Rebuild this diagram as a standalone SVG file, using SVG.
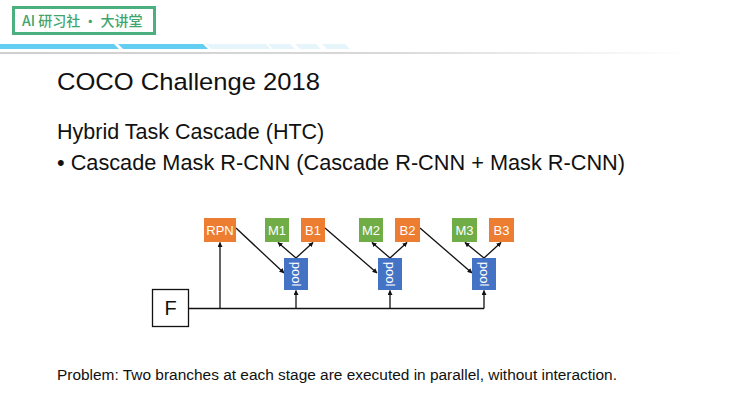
<svg xmlns="http://www.w3.org/2000/svg" width="732" height="400" viewBox="0 0 732 400">
<defs>
<linearGradient id="gl" x1="0" y1="0" x2="1" y2="0">
<stop offset="0" stop-color="#cfcfcf"/><stop offset="0.55" stop-color="#d8d8d8"/><stop offset="1" stop-color="#ffffff"/>
</linearGradient>
<marker id="ah" viewBox="0 0 10 10" refX="9" refY="5" markerWidth="5" markerHeight="5" orient="auto-start-reverse" markerUnits="userSpaceOnUse">
<path d="M0,0 L10,5 L0,10 z" fill="#111"/>
</marker>
<style>
.box{stroke:none}
.or{fill:#ed7d31}
.gr{fill:#70ad47}
.bl{fill:#4472c4}
.lbl{font-family:"Liberation Sans",Arial,sans-serif;font-size:13px;fill:#fff;text-anchor:middle}
.ln{stroke:#111;stroke-width:1.3;fill:none}
.ar{marker-end:url(#ah)}
.txt{font-family:"Liberation Sans",Arial,sans-serif;fill:#111}
</style>
</defs>
<rect width="732" height="400" fill="#fff"/>
<!-- header -->
<rect x="13.5" y="7.5" width="141" height="26" fill="#fff" stroke="#4caf7f" stroke-width="3"/>
<text x="22" y="26" font-family="'Noto Sans CJK SC',sans-serif" font-size="14" font-weight="500" fill="#3ea56e">AI 研习社 · 大讲堂</text>
<polygon points="0,44 114,44 119,49 0,49" fill="#64cdf2"/>
<polygon points="118,44 203,44 208,49 123,49" fill="#64cdf2"/>
<polygon points="206,44 266,44 271,49 211,49" fill="#e6f5fb"/>
<polygon points="268,44 290,44 295,49 273,49" fill="#e6f5fb"/>
<polygon points="295,44 316,44 321,49 300,49" fill="#e6f5fb"/>
<polygon points="322,44 345,44 350,49 327,49" fill="#e6f5fb"/>
<rect x="0" y="52" width="690" height="2" fill="url(#gl)"/>
<!-- texts -->
<text class="txt" x="57" y="90" font-size="24.5" textLength="263" lengthAdjust="spacingAndGlyphs">COCO Challenge 2018</text>
<text class="txt" x="57" y="139" font-size="21.5">Hybrid Task Cascade (HTC)</text>
<text class="txt" x="57" y="170" font-size="21.5" textLength="568" lengthAdjust="spacingAndGlyphs">• Cascade Mask R-CNN (Cascade R-CNN + Mask R-CNN)</text>
<text class="txt" x="57" y="380" font-size="15.2" textLength="560" lengthAdjust="spacingAndGlyphs">Problem: Two branches at each stage are executed in parallel, without interaction.</text>
<!-- connectors -->
<g id="connectors">
<line class="ln" x1="189" y1="308.5" x2="484" y2="308.5"/>
<line class="ln ar" x1="220" y1="308.5" x2="220" y2="242.5"/>
<line class="ln ar" x1="296" y1="308.5" x2="296" y2="290.5"/>
<line class="ln ar" x1="390" y1="308.5" x2="390" y2="290.5"/>
<line class="ln ar" x1="484" y1="308.5" x2="484" y2="290.5"/>
<line class="ln ar" x1="236" y1="228" x2="284" y2="273"/>
<line class="ln ar" x1="325" y1="228" x2="377" y2="273"/>
<line class="ln ar" x1="420" y1="228" x2="472" y2="273"/>
<line class="ln ar" x1="296" y1="258" x2="278" y2="242.5"/>
<line class="ln ar" x1="296" y1="258" x2="313" y2="242.5"/>
<line class="ln ar" x1="390" y1="258" x2="372" y2="242.5"/>
<line class="ln ar" x1="390" y1="258" x2="407" y2="242.5"/>
<line class="ln ar" x1="484" y1="258" x2="465" y2="242.5"/>
<line class="ln ar" x1="484" y1="258" x2="501" y2="242.5"/>
</g>
<!-- nodes -->
<g id="F"><rect x="152.5" y="289.5" width="36" height="37" fill="#fff" stroke="#111" stroke-width="1.3"/><text class="txt" x="170.5" y="315" font-size="20" text-anchor="middle">F</text></g>
<g id="RPN"><rect class="box or" x="204" y="218" width="32" height="24"/><text class="lbl" x="220" y="234.5">RPN</text></g>
<g id="M1"><rect class="box gr" x="265" y="218" width="24" height="24"/><text class="lbl" x="277" y="234.5">M1</text></g>
<g id="B1"><rect class="box or" x="301" y="218" width="24" height="24"/><text class="lbl" x="313" y="234.5">B1</text></g>
<g id="M2"><rect class="box gr" x="359" y="218" width="24" height="24"/><text class="lbl" x="371" y="234.5">M2</text></g>
<g id="B2"><rect class="box or" x="395" y="218" width="25" height="24"/><text class="lbl" x="407.5" y="234.5">B2</text></g>
<g id="M3"><rect class="box gr" x="452" y="218" width="25" height="24"/><text class="lbl" x="464.5" y="234.5">M3</text></g>
<g id="B3"><rect class="box or" x="489" y="218" width="25" height="24"/><text class="lbl" x="501.5" y="234.5">B3</text></g>
<g id="pool1"><rect class="box bl" x="284" y="258" width="24" height="32"/><text class="lbl" transform="translate(291.5,274) rotate(90)" y="0">pool</text></g>
<g id="pool2"><rect class="box bl" x="378" y="258" width="24" height="32"/><text class="lbl" transform="translate(385.5,274) rotate(90)" y="0">pool</text></g>
<g id="pool3"><rect class="box bl" x="472" y="258" width="24" height="32"/><text class="lbl" transform="translate(479.5,274) rotate(90)" y="0">pool</text></g>
</svg>
